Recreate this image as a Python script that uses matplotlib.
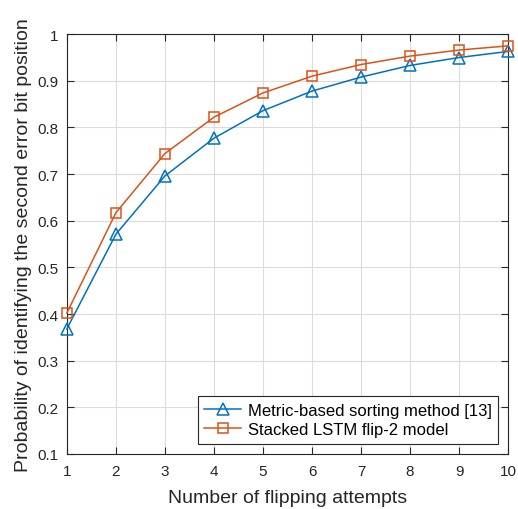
import numpy as np
import matplotlib.pyplot as plt

plt.rcParams['font.family'] = ['Liberation Sans', 'DejaVu Sans']

attempts = [1, 2, 3, 4, 5, 6, 7, 8, 9, 10]
metric_sorting = [0.368, 0.571, 0.696, 0.777, 0.836, 0.878, 0.908, 0.933, 0.950, 0.963]
stacked_lstm = [0.402, 0.617, 0.744, 0.822, 0.874, 0.910, 0.935, 0.953, 0.966, 0.975]
yticks = [0.1, 0.2, 0.3, 0.4, 0.5, 0.6, 0.7, 0.8, 0.9, 1]
ytick_labels = ['0.1', '0.2', '0.3', '0.4', '0.5', '0.6', '0.7', '0.8', '0.9', '1']

fig = plt.figure(figsize=(5.18, 5.10), dpi=100)
ax = fig.add_axes([0.129, 0.108, 0.852, 0.823])

ax.plot(attempts, metric_sorting, '-^', color='#0072BD', linewidth=1.1,
        markersize=8.5, markerfacecolor='none', markeredgewidth=1.1,
        clip_on=False, zorder=3, label='Metric-based sorting method [13]')
ax.plot(attempts, stacked_lstm, '-s', color='#D95319', linewidth=1.1,
        markersize=7.5, markerfacecolor='none', markeredgewidth=1.1,
        clip_on=False, zorder=3, label='Stacked LSTM flip-2 model')

ax.set_xlim(1, 10)
ax.set_ylim(0.1, 1)
ax.set_xticks(attempts)
ax.set_yticks(yticks)
ax.set_yticklabels(ytick_labels)
ax.tick_params(direction='in', top=True, right=True, labelsize=11, length=5,
               colors='#262626')
ax.tick_params(axis='x', pad=7)
ax.tick_params(axis='y', pad=6)
ax.grid(True, color='#dcdcdc', linewidth=0.8)
ax.set_axisbelow(True)
for s in ax.spines.values():
    s.set_color('#262626')
    s.set_linewidth(0.8)

ax.set_xlabel('Number of flipping attempts', fontsize=14, color='#262626',
              labelpad=8)
ax.set_ylabel('Probability of identifying the second error bit position',
              fontsize=14, color='#262626', labelpad=4)

leg = ax.legend(loc='lower right', fontsize=12, fancybox=False,
                framealpha=1, edgecolor='#262626', borderaxespad=0.6,
                handlelength=2.2, handletextpad=0.4, borderpad=0.4,
                labelspacing=0.25)
leg.get_frame().set_linewidth(0.8)

plt.savefig('out.png', dpi=100)
